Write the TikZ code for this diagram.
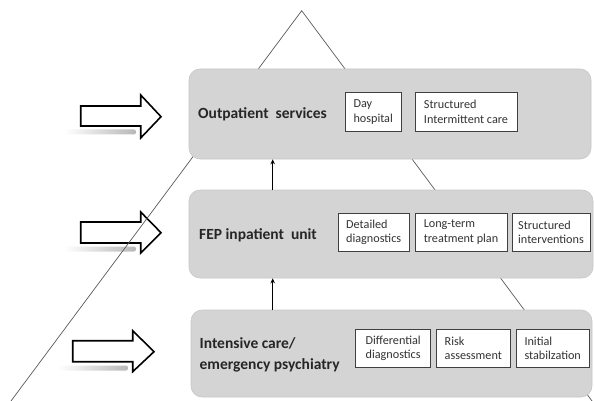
\documentclass[tikz,border=0pt]{standalone}
\usepackage{fontspec}
\setmainfont{Carlito}
\usetikzlibrary{arrows.meta}

\tikzset{
  level/.style={draw=black!22, fill=black!17, rounded corners=11pt, line width=0.6pt},
  sub/.style={draw=black!75, fill=white, line width=0.9pt, align=left, inner sep=0pt,
    font=\fontsize{12.2}{14.5}\selectfont, text=black!80},
  head/.style={font=\bfseries\fontsize{15.5}{21}\selectfont, text=black!85, align=left, anchor=west, inner sep=0pt},
  bigarrow/.style={draw=black, fill=white, line width=1.6pt, line join=miter},
  shadow/.style={left color=white, right color=black!28, rounded corners=2pt},
  tri/.style={draw=black!65, line width=0.7pt},
  up/.style={-{Stealth[length=5pt,width=4.5pt]}, line width=1.4pt},
}

\begin{document}
\begin{tikzpicture}[x=1pt,y=-1pt]
        \useasboundingbox (0,0) rectangle (594,401);

        % shadows under the arrows
        \shade[shadow] (64,129.5) rectangle (136,134.5);
        \shade[shadow] (64,246.5) rectangle (136,251.5);
        \shade[shadow] (58,365.5) rectangle (128,370.5);

        \draw[bigarrow] (80.7,106) -- (140.7,106) -- (140.7,95) -- (161,116.7)
          -- (140.7,138) -- (140.7,126) -- (80.7,126) -- cycle;
        \draw[bigarrow] (80.7,222) -- (140.7,222) -- (140.7,212) -- (161,232.7)
          -- (140.7,253) -- (140.7,243) -- (80.7,243) -- cycle;
        \draw[bigarrow] (72.7,340.7) -- (132.7,340.7) -- (132.7,330.7) -- (154,351.7)
          -- (132.7,371.7) -- (132.7,361.7) -- (72.7,361.7) -- cycle;

        \coordinate (apex) at (301.7,10.7);
        \coordinate (bl) at (11,401);
        \coordinate (br) at (592,401);
        \draw[tri] (bl) -- (apex) -- (br);

        \node[level, minimum width=402pt, minimum height=90pt] (out) at (390,114) {};
        \node[level, minimum width=404pt, minimum height=88pt] (fep) at (391,234) {};
        \node[level, minimum width=401pt, minimum height=87pt] (icu) at (391.5,353.5) {};

        \node[head] (outl) at (198,114) {Outpatient\ \ services};
        \node[head] (fepl) at (199,235) {FEP inpatient\ \ unit};
        \node[head] (icul) at (199.5,355) {Intensive care/\\emergency psychiatry};

        \node[sub, minimum width=56.5pt, minimum height=38.3pt] (day) at (373.2,111.9) {Day\\hospital};
        \node[sub, minimum width=102pt, minimum height=38.3pt] (sic) at (466,111.9) {Structured\\Intermittent care};

        \node[sub, minimum width=71.5pt, minimum height=38.5pt] (det) at (373.7,232.3) {Detailed\\diagnostics};
        \node[sub, minimum width=92pt, minimum height=38.5pt] (ltp) at (461,232.3) {Long-term\\treatment plan};
        \node[sub, minimum width=78pt, minimum height=38.5pt] (sti) at (551,232.3) {Structured\\interventions};

        \node[sub, minimum width=75pt, minimum height=38.7pt] (dif) at (393.2,348.3) {Differential\\diagnostics};
        \node[sub, minimum width=74.7pt, minimum height=38.7pt] (risk) at (473.3,348.3) {Risk\\assessment};
        \node[sub, minimum width=73.3pt, minimum height=38.7pt] (init) at (552.7,348.3) {Initial\\stabilzation};

        \draw[up] ([xshift=84pt]fep.north west) to ([xshift=84pt]out.south west);
        \draw[up] ([xshift=82pt]icu.north west) to ([xshift=84pt]fep.south west);
      \end{tikzpicture}
\end{document}
